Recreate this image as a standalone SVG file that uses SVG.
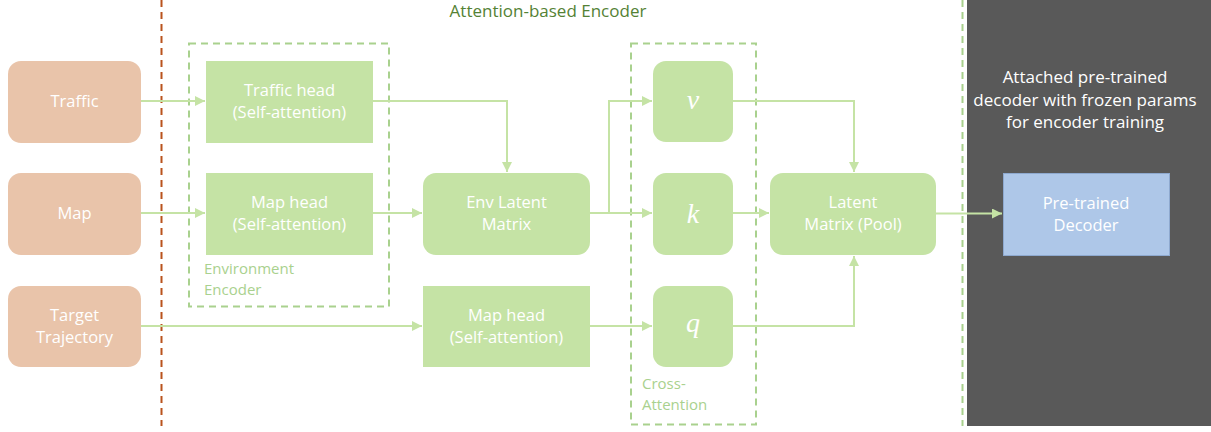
<svg xmlns="http://www.w3.org/2000/svg" width="1211" height="432" viewBox="0 0 1211 432">
<defs>
<style>
.lbl{font-family:"Open Sans","Noto Sans",sans-serif;font-size:16.5px;fill:#ffffff;text-anchor:middle}
.grp{font-family:"Open Sans","Noto Sans",sans-serif;font-size:15px;fill:#A9D18E}
.math{font-family:"Liberation Serif",serif;font-style:italic;font-size:28px;fill:#ffffff;text-anchor:middle}
.in{fill:#E9C4AA}
.g{fill:#C5E3A5}
.conn{fill:none;stroke:#C5E3A5;stroke-width:2}
.dash{fill:none;stroke:#A9D18E;stroke-width:2;stroke-dasharray:7 5}
</style>
<marker id="ah" viewBox="0 0 10 10" refX="10" refY="5" markerWidth="5" markerHeight="5" orient="auto" markerUnits="strokeWidth">
<path d="M0,0 L10,5 L0,10 z" fill="#C5E3A5"/>
</marker>
</defs>
<rect width="1211" height="432" fill="#ffffff"/>
<g id="decoder-panel">
<rect x="967" y="0" width="244" height="426" fill="#595959"/>
<text class="lbl" x="1085" y="83" style="font-size:17px">Attached pre-trained</text>
<text class="lbl" x="1085" y="106" style="font-size:17px">decoder with frozen params</text>
<text class="lbl" x="1085" y="128" style="font-size:17px">for encoder training</text>
</g>
<g id="separators">
<line x1="161.5" y1="0" x2="161.5" y2="426" stroke="#B9531D" stroke-width="2" stroke-dasharray="7 5"/>
<line x1="962.5" y1="0" x2="962.5" y2="426" class="dash"/>
</g>
<g id="title"><text x="548" y="17" style="font-family:'Open Sans','Noto Sans',sans-serif;font-size:17px;fill:#548235;text-anchor:middle">Attention-based Encoder</text></g>
<g id="env-encoder">
<rect x="189" y="43.5" width="200" height="263" class="dash"/>
<text class="grp" x="204" y="274">Environment</text>
<text class="grp" x="204" y="295">Encoder</text>
</g>
<g id="cross-attention">
<rect x="631" y="43.5" width="125" height="381" class="dash"/>
<text class="grp" x="642" y="389">Cross-</text>
<text class="grp" x="642" y="410">Attention</text>
</g>
<g id="connectors">
<path class="conn" d="M141,101 H205" marker-end="url(#ah)"/>
<path class="conn" d="M141,213 H205" marker-end="url(#ah)"/>
<path class="conn" d="M141,326 H422" marker-end="url(#ah)"/>
<path class="conn" d="M373,101 H507 V172" marker-end="url(#ah)"/>
<path class="conn" d="M373,213 H422" marker-end="url(#ah)"/>
<path class="conn" d="M590,213 H652" marker-end="url(#ah)"/>
<path class="conn" d="M609,213 V101 H652" marker-end="url(#ah)"/>
<path class="conn" d="M590,326 H652" marker-end="url(#ah)"/>
<path class="conn" d="M733,101 H854 V172" marker-end="url(#ah)"/>
<path class="conn" d="M733,213 H769" marker-end="url(#ah)"/>
<path class="conn" d="M733,326 H854 V256" marker-end="url(#ah)"/>
<path class="conn" d="M936,213.5 H1002" marker-end="url(#ah)"/>
</g>
<g id="traffic"><rect class="in" x="8" y="61" width="133" height="82" rx="13"/><text class="lbl" x="74.5" y="107">Traffic</text></g>
<g id="map"><rect class="in" x="8" y="173" width="133" height="82" rx="13"/><text class="lbl" x="74.5" y="219">Map</text></g>
<g id="target"><rect class="in" x="8" y="286" width="133" height="81" rx="13"/><text class="lbl" x="74.5" y="321">Target</text><text class="lbl" x="74.5" y="343">Trajectory</text></g>
<g id="traffic-head"><rect class="g" x="206" y="61" width="167" height="82"/><text class="lbl" x="289.5" y="96">Traffic head</text><text class="lbl" x="289.5" y="118">(Self-attention)</text></g>
<g id="map-head"><rect class="g" x="206" y="173" width="167" height="82"/><text class="lbl" x="289.5" y="208">Map head</text><text class="lbl" x="289.5" y="230">(Self-attention)</text></g>
<g id="env-latent"><rect class="g" x="423" y="173" width="167" height="82" rx="13"/><text class="lbl" x="506.5" y="208">Env Latent</text><text class="lbl" x="506.5" y="230">Matrix</text></g>
<g id="map-head-2"><rect class="g" x="423" y="286" width="167" height="81"/><text class="lbl" x="506.5" y="321">Map head</text><text class="lbl" x="506.5" y="343">(Self-attention)</text></g>
<g id="v"><rect class="g" x="653" y="61" width="80" height="81" rx="13"/><text class="math" x="693" y="109">v</text></g>
<g id="k"><rect class="g" x="653" y="173" width="80" height="82" rx="13"/><text class="math" x="693" y="223">k</text></g>
<g id="q"><rect class="g" x="653" y="286" width="80" height="81" rx="13"/><text class="math" x="693" y="332">q</text></g>
<g id="latent-pool"><rect class="g" x="770" y="173" width="166" height="82" rx="13"/><text class="lbl" x="853" y="208">Latent</text><text class="lbl" x="853" y="230">Matrix (Pool)</text></g>
<g id="pretrained-decoder"><rect x="1003.5" y="173.5" width="166" height="82" fill="#AEC7E8" stroke="#8EA9CF" stroke-width="1"/><text class="lbl" x="1086" y="209">Pre-trained</text><text class="lbl" x="1086" y="231">Decoder</text></g>
</svg>
